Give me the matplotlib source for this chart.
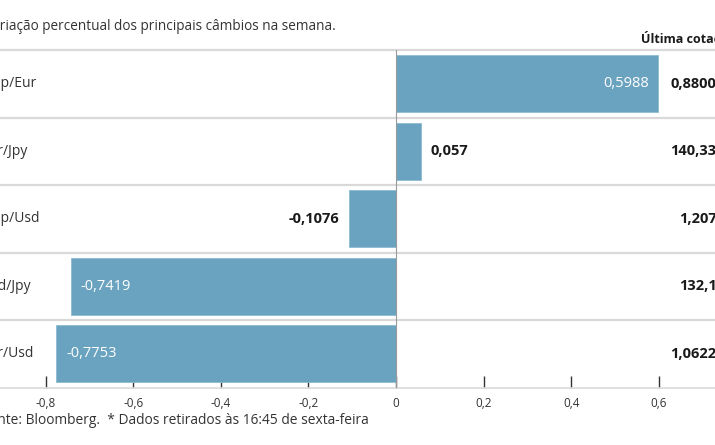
import matplotlib.pyplot as plt
from matplotlib.ticker import FuncFormatter

# data
pairs = ["Gbp/Eur", "Eur/Jpy", "Gbp/Usd", "Usd/Jpy", "Eur/Usd"]
change = [0.5988, 0.057, -0.1076, -0.7419, -0.7753]
last_quote = ["0,88007", "140,335", "1,2071", "132,13", "1,06225"]
ticks = [-0.8, -0.6, -0.4, -0.2, 0, 0.2, 0.4, 0.6]

title = "Variação percentual dos principais câmbios na semana."
quote_header = "Última cotação*"
source = "Fonte: Bloomberg.  * Dados retirados às 16:45 de sexta-feira"

bar_color = "#6aa3bf"
text_color = "#333333"
grid_color = "#d9d9d9"

plt.rcParams['font.family'] = ['Open Sans', 'DejaVu Sans']

W, H = 715, 445
fig = plt.figure(figsize=(W / 100, H / 100), dpi=100)
# axes spans the full width, rows from y=50px to y=387.5px
ax = fig.add_axes([0, 1 - 387.5 / H, 1, (387.5 - 50) / H])

zero_px, px_per_unit = 396, 438
ax.set_xlim(-zero_px / px_per_unit, (W - zero_px) / px_per_unit)
ax.set_ylim(len(pairs) - 0.5, -0.5)

ypos = list(range(len(pairs)))
ax.barh(ypos, change, height=0.85, color=bar_color, edgecolor="#8dbbd1",
        linewidth=0.6, zorder=2)

# row separators
for k in range(len(pairs)):
    ax.axhline(k - 0.5, color=grid_color, lw=1.6, zorder=1, clip_on=False)
ax.axvline(0, color="#9a9a9a", lw=0.8, zorder=3)

for sp in ["top", "left", "right"]:
    ax.spines[sp].set_visible(False)
ax.spines["bottom"].set_color(grid_color)
ax.spines["bottom"].set_linewidth(1.2)
ax.set_yticks([])
ax.set_xticks(ticks)
ax.xaxis.set_major_formatter(FuncFormatter(lambda v, p: f"{v:g}".replace(".", ",")))
ax.tick_params(axis="x", direction="in", length=9, width=1, color="#333333",
               labelsize=8.5, labelcolor=text_color, pad=7)

ytr = ax.get_yaxis_transform()
for i, (name, v, q) in enumerate(zip(pairs, change, last_quote)):
    # the reference image is cropped, so the labels run off the edges
    ax.text(-18 / W, i, name, transform=ytr, ha="left", va="center",
            fontsize=10, color=text_color)
    ax.text(1.014, i, q, transform=ytr, ha="right", va="center",
            fontsize=10.5, fontweight="bold", color="#1a1a1a")
    lab = f"{v:g}".replace(".", ",")
    if abs(v) > 0.4:
        off = -7 if v > 0 else 7
        ax.annotate(lab, (v, i), xytext=(off, 0), textcoords="offset points",
                    ha="right" if v > 0 else "left", va="center",
                    fontsize=10.5, color="white")
    else:
        off = 7 if v > 0 else -7
        ax.annotate(lab, (v, i), xytext=(off, 0), textcoords="offset points",
                    ha="left" if v > 0 else "right", va="center",
                    fontsize=10.5, fontweight="bold", color="#1a1a1a")

fig.text(-16 / W, 1 - 26 / H, title, ha="left", va="center",
         fontsize=9.8, color=text_color)
fig.text(742 / W, 1 - 39 / H, quote_header, ha="right", va="center",
         fontsize=9, fontweight="bold", color="#1a1a1a")
fig.text(-18 / W, 1 - 420 / H, source, ha="left", va="center",
         fontsize=9.9, color=text_color)

fig.savefig("out.png", dpi=100)
